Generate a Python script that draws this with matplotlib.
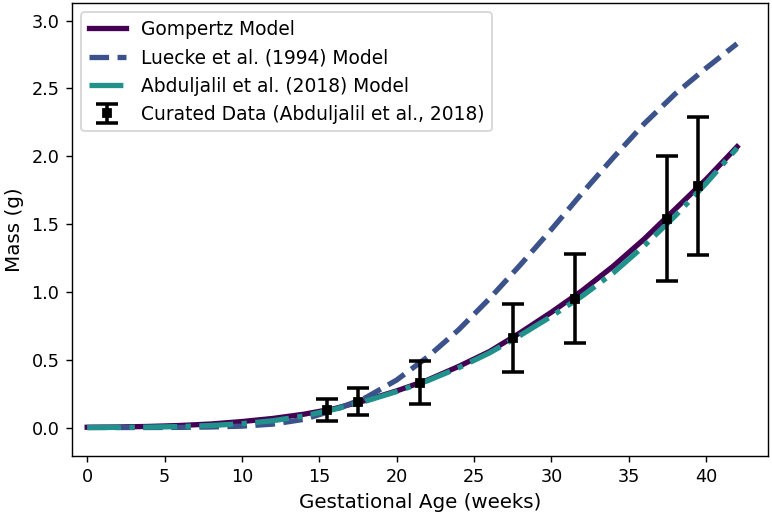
import matplotlib
matplotlib.use("Agg")
import matplotlib.pyplot as plt

# model curves, every 2 weeks
weeks = [0, 2, 4, 6, 8, 10, 12, 14, 16, 18, 20, 22, 24, 26, 28, 30, 32, 34, 36, 38, 40, 42]
gompertz = [0.002, 0.004, 0.008, 0.015, 0.026, 0.044, 0.067, 0.098, 0.14, 0.20, 0.27,
            0.35, 0.45, 0.56, 0.70, 0.85, 1.01, 1.19, 1.39, 1.61, 1.83, 2.07]
luecke = [0.0, 0.0, 0.0, 0.001, 0.004, 0.01, 0.025, 0.06, 0.13, 0.22, 0.35,
          0.52, 0.72, 0.95, 1.20, 1.46, 1.73, 1.99, 2.24, 2.46, 2.65, 2.83]
abduljalil = [0.0, 0.001, 0.003, 0.007, 0.015, 0.028, 0.05, 0.085, 0.135, 0.195, 0.265,
              0.345, 0.44, 0.55, 0.68, 0.82, 0.97, 1.14, 1.34, 1.56, 1.80, 2.06]

# curated data points with SD
data_age = [15.5, 17.5, 21.5, 27.5, 31.5, 37.5, 39.5]
data_mass = [0.13, 0.19, 0.33, 0.66, 0.95, 1.54, 1.78]
data_sd = [0.08, 0.10, 0.16, 0.25, 0.33, 0.46, 0.51]

DPI = 127
fig = plt.figure(figsize=(772 / DPI, 515 / DPI), dpi=DPI)
ax = fig.add_axes([71.7 / 772, 1 - 456 / 515, (768 - 71.7) / 772, (456 - 3) / 515])

ax.plot(weeks, gompertz, color="#440154", lw=3, ls="-", label="Gompertz Model")
ax.plot(weeks, luecke, color="#3b528b", lw=3, ls="--", label="Luecke et al. (1994) Model")
ax.plot(weeks, abduljalil, color="#21918c", lw=3, ls="-.", label="Abduljalil et al. (2018) Model")
ax.errorbar(data_age, data_mass, yerr=data_sd, fmt="s", color="black", ms=4,
            elinewidth=2, capsize=6.5, capthick=2,
            label="Curated Data (Abduljalil et al., 2018)", zorder=5)

ax.set_xlim(-1.0, 44.0)
ax.set_ylim(-0.21, 3.13)
ax.tick_params(labelsize=10)
ax.set_xlabel("Gestational Age (weeks)", fontsize=11.3)
ax.set_ylabel("Mass (g)", fontsize=11.3)
ax.legend(loc="upper left", fontsize=10.6)

fig.savefig("out.png", dpi=DPI)
